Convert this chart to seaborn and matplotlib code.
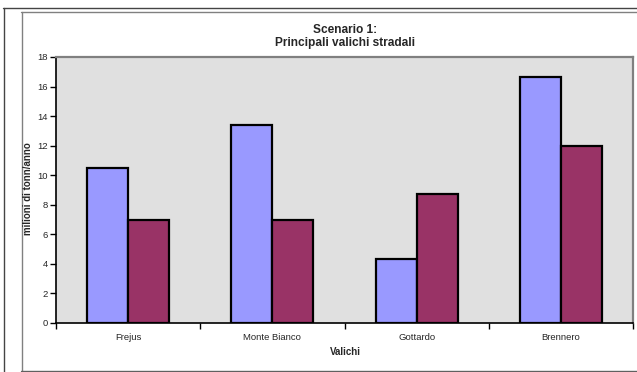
import matplotlib
matplotlib.use("Agg")
import matplotlib.pyplot as plt
from matplotlib.lines import Line2D
import seaborn as sns
import pandas as pd

# Road-pass freight flows (million tonnes / year)
valichi = ["Frejus", "Monte Bianco", "Gottardo", "Brennero"]
serie_a = [10.5, 13.4, 4.3, 16.65]
serie_b = [6.95, 6.95, 8.7, 12.0]
y_ticks = [0, 2, 4, 6, 8, 10, 12, 14, 16, 18]

df = pd.DataFrame({
    "valico": valichi * 2,
    "valore": serie_a + serie_b,
    "serie": ["A"] * len(valichi) + ["B"] * len(valichi),
})

sns.set_theme(style="white")
plt.rcParams["font.family"] = ["Liberation Sans", "DejaVu Sans"]

W, H = 637, 372
fig = plt.figure(figsize=(W / 100, H / 100), dpi=100)
fig.patch.set_facecolor("white")

# plot area in pixel coordinates
left, top, right, bottom = 56, 57, 633, 323
ax = fig.add_axes([left / W, 1 - bottom / H, (right - left) / W, (bottom - top) / H])
ax.set_facecolor("#E0E0E0")

sns.barplot(data=df, x="valico", y="valore", hue="serie",
            palette=["#9999FF", "#993366"], width=0.57,
            edgecolor="black", linewidth=1.6, saturation=1,
            legend=False, ax=ax)

ax.set_xlim(-0.5, len(valichi) - 0.5)
ax.set_ylim(0, 18)
ax.set_yticks(y_ticks)
ax.set_yticklabels([str(t) for t in y_ticks], fontsize=6.8)
ax.tick_params(axis="y", length=4, width=1, color="black", pad=2, left=True)
ax.set_xticks(range(len(valichi)))
ax.set_xticklabels(valichi, fontsize=6.8)
ax.tick_params(axis="x", which="major", length=0, pad=7)
ax.set_xticks([i - 0.5 for i in range(len(valichi) + 1)], minor=True)
ax.tick_params(axis="x", which="minor", length=4, width=1, color="black", bottom=True)

for s in ["left", "bottom"]:
    ax.spines[s].set_color("black")
    ax.spines[s].set_linewidth(1.2)
for s in ["top", "right"]:
    ax.spines[s].set_color("#808080")
    ax.spines[s].set_linewidth(1.6)

ax.set_xlabel("")
ax.set_ylabel("")
fig.text(345 / W, 1 - 352 / H, "Valichi", fontsize=7, fontweight="bold",
         ha="center", va="center")
fig.text(28 / W, 1 - 189 / H, "milioni di tonn/anno", fontsize=7,
         fontweight="bold", rotation=90, ha="center", va="center")
fig.text(345 / W, 1 - 36.5 / H, "Scenario 1:\nPrincipali valichi stradali",
         fontsize=8.6, fontweight="bold", ha="center", va="center",
         linespacing=1.1)

# page frame lines
def hline(y, x0, x1, color, lw):
    fig.add_artist(Line2D([x0 / W, x1 / W], [1 - y / H, 1 - y / H],
                          transform=fig.transFigure, color=color, lw=lw))

def vline(x, y0, y1, color, lw):
    fig.add_artist(Line2D([x / W, x / W], [1 - y0 / H, 1 - y1 / H],
                          transform=fig.transFigure, color=color, lw=lw))

hline(8, 3, W, "#444444", 1.0)
vline(3.5, 8, H, "#444444", 1.0)
hline(11.5, 21, W, "#808080", 1.0)
vline(21.5, 11.5, 371, "#808080", 1.0)
hline(370.5, 21, W, "#606060", 1.0)

fig.savefig("out.png", dpi=100, facecolor="white")
